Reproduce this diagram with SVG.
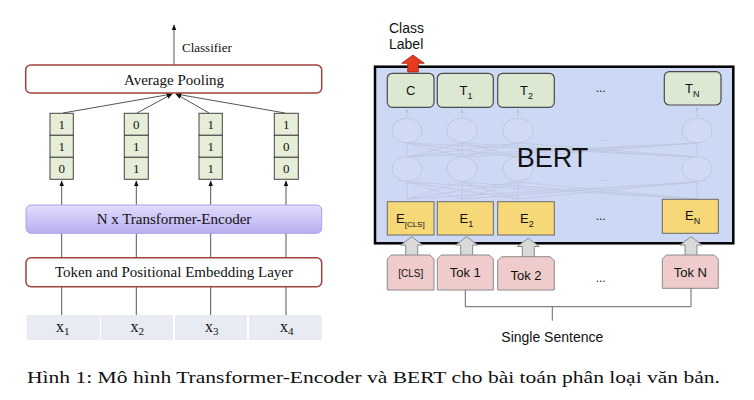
<svg xmlns="http://www.w3.org/2000/svg" width="754" height="400" viewBox="0 0 754 400">
<defs>
<style>
.serif{font-family:"Liberation Serif","Times New Roman",serif;fill:#111}
.sans{font-family:"Liberation Sans",Arial,sans-serif;fill:#111}
.ln{stroke:#555;stroke-width:1;fill:none}
.vc{fill:#e6eed8;stroke:#444;stroke-width:1}
.xc{fill:#e8ebf1}
.grn{fill:#dde8d3;stroke:#4a4a4a;stroke-width:1.2}
.yel{fill:#f6d878;stroke:#6a6a6a;stroke-width:1}
.tok{fill:#efcbcb;stroke:#8a8a8a;stroke-width:1}
.garr{fill:#d9d9d9;stroke:#8a8a8a;stroke-width:1}
.net{stroke:#bec6dd;stroke-width:0.8;fill:none}
.nete{stroke:#c0c8de;stroke-width:1;fill:#d1daf4}
</style>
<marker id="ah" viewBox="0 0 10 10" refX="9" refY="5" markerWidth="6" markerHeight="6" orient="auto">
<path d="M0,1 L10,5 L0,9 Z" fill="#111"/>
</marker>
<marker id="ahf" viewBox="0 0 10 10" refX="9" refY="5" markerWidth="5" markerHeight="5" orient="auto">
<path d="M0,1 L10,5 L0,9 Z" fill="#b9c1d9"/>
</marker>
<linearGradient id="tg" x1="0" y1="0" x2="0" y2="1">
<stop offset="0" stop-color="#e2dcfc"/>
<stop offset="1" stop-color="#b7b0f0"/>
</linearGradient>
</defs>
<rect width="754" height="400" fill="#fff"/>

<!-- LEFT: connectors -->
<g id="left-connectors">
<line class="ln" x1="61.7" y1="315" x2="61.7" y2="181" marker-end="url(#ah)"/>
<line class="ln" x1="136.3" y1="315" x2="136.3" y2="181" marker-end="url(#ah)"/>
<line class="ln" x1="210.7" y1="315" x2="210.7" y2="181" marker-end="url(#ah)"/>
<line class="ln" x1="286" y1="315" x2="286" y2="181" marker-end="url(#ah)"/>
<line class="ln" x1="63" y1="113" x2="172" y2="94" marker-end="url(#ah)"/>
<line class="ln" x1="137" y1="113" x2="172" y2="94" marker-end="url(#ah)"/>
<line class="ln" x1="209" y1="113" x2="176" y2="94" marker-end="url(#ah)"/>
<line class="ln" x1="285" y1="113" x2="176" y2="94" marker-end="url(#ah)"/>
<line class="ln" x1="174" y1="65" x2="174" y2="25" marker-end="url(#ah)"/>
</g>

<g id="classifier-label">
<text class="serif" x="182" y="52" font-size="13">Classifier</text>
</g>

<g id="avg-pooling">
<rect x="25.7" y="65" width="296" height="28" rx="5" fill="#fff" stroke="#a3403f" stroke-width="1.5"/>
<text class="serif" x="174" y="84.5" font-size="15" text-anchor="middle">Average Pooling</text>
</g>

<g id="vec1">
<rect class="vc" x="50" y="113.3" width="23.3" height="22"/>
<rect class="vc" x="50" y="135.3" width="23.3" height="22"/>
<rect class="vc" x="50" y="157.3" width="23.3" height="22"/>
<text class="serif" font-size="13" text-anchor="middle"><tspan x="61.7" y="129">1</tspan><tspan x="61.7" y="151">1</tspan><tspan x="61.7" y="173">0</tspan></text>
</g>
<g id="vec2">
<rect class="vc" x="124.3" y="113.3" width="24" height="22"/>
<rect class="vc" x="124.3" y="135.3" width="24" height="22"/>
<rect class="vc" x="124.3" y="157.3" width="24" height="22"/>
<text class="serif" font-size="13" text-anchor="middle"><tspan x="136.3" y="129">0</tspan><tspan x="136.3" y="151">1</tspan><tspan x="136.3" y="173">1</tspan></text>
</g>
<g id="vec3">
<rect class="vc" x="199" y="113.3" width="23.3" height="22"/>
<rect class="vc" x="199" y="135.3" width="23.3" height="22"/>
<rect class="vc" x="199" y="157.3" width="23.3" height="22"/>
<text class="serif" font-size="13" text-anchor="middle"><tspan x="210.7" y="129">1</tspan><tspan x="210.7" y="151">1</tspan><tspan x="210.7" y="173">1</tspan></text>
</g>
<g id="vec4">
<rect class="vc" x="274.3" y="113.3" width="24" height="22"/>
<rect class="vc" x="274.3" y="135.3" width="24" height="22"/>
<rect class="vc" x="274.3" y="157.3" width="24" height="22"/>
<text class="serif" font-size="13" text-anchor="middle"><tspan x="286.3" y="129">1</tspan><tspan x="286.3" y="151">0</tspan><tspan x="286.3" y="173">0</tspan></text>
</g>

<g id="transformer-encoder">
<rect x="26" y="205" width="295.7" height="28.3" rx="5" fill="url(#tg)" stroke="#aaa2e6" stroke-width="1"/>
<text class="serif" x="174" y="224" font-size="15" text-anchor="middle">N x Transformer-Encoder</text>
</g>

<g id="embedding-layer">
<rect x="26" y="257.7" width="295.7" height="29" rx="5" fill="#fff" stroke="#a3403f" stroke-width="1.5"/>
<text class="serif" x="174" y="277" font-size="15" text-anchor="middle">Token and Positional Embedding Layer</text>
</g>

<g id="inputs">
<rect class="xc" x="26.7" y="315" width="73.3" height="25"/>
<rect class="xc" x="101" y="315" width="72" height="25"/>
<rect class="xc" x="175" y="315" width="72" height="25"/>
<rect class="xc" x="249" y="315" width="72.7" height="25"/>
<text class="serif" font-size="16"><tspan x="56" y="332">x</tspan><tspan font-size="11" dy="3">1</tspan></text>
<text class="serif" font-size="16"><tspan x="130.5" y="332">x</tspan><tspan font-size="11" dy="3">2</tspan></text>
<text class="serif" font-size="16"><tspan x="205" y="332">x</tspan><tspan font-size="11" dy="3">3</tspan></text>
<text class="serif" font-size="16"><tspan x="280" y="332">x</tspan><tspan font-size="11" dy="3">4</tspan></text>
</g>

<!-- RIGHT: BERT -->
<g id="class-label">
<text class="sans" font-size="14"><tspan x="389" y="33">Class</tspan><tspan x="389" y="49">Label</tspan></text>
</g>

<g id="bert">
<rect x="375" y="66.7" width="358.3" height="176.6" fill="#cdd8f5" stroke="#000" stroke-width="2.5"/>
<g id="bert-network">
<g class="net">
<path d="M407 157L407 143M407 157L462 143M407 157L518 143M407 157L697 143
M462 157L407 143M462 157L462 143M462 157L518 143M462 157L697 143
M518 157L407 143M518 157L462 143M518 157L518 143M518 157L697 143
M697 157L407 143M697 157L462 143M697 157L518 143M697 157L697 143"/>
<path d="M407 199L407 182M407 199L462 182M407 199L518 182M407 199L697 182
M462 199L407 182M462 199L462 182M462 199L518 182M462 199L697 182
M518 199L407 182M518 199L462 182M518 199L518 182M518 199L697 182
M697 199L407 182M697 199L462 182M697 199L518 182M697 199L697 182"/>
<line x1="407" y1="117" x2="407" y2="109" marker-end="url(#ahf)"/>
<line x1="462" y1="117" x2="462" y2="109" marker-end="url(#ahf)"/>
<line x1="518" y1="117" x2="518" y2="109" marker-end="url(#ahf)"/>
<line x1="697" y1="117" x2="697" y2="107" marker-end="url(#ahf)"/>
</g>
<ellipse class="nete" cx="407" cy="130.5" rx="15" ry="12.3"/>
<ellipse class="nete" cx="462" cy="130.5" rx="15" ry="12.3"/>
<ellipse class="nete" cx="518" cy="130.5" rx="15" ry="12.3"/>
<ellipse class="nete" cx="697" cy="130.5" rx="15" ry="12.3"/>
<ellipse class="nete" cx="407" cy="169" rx="15" ry="12.3"/>
<ellipse class="nete" cx="462" cy="169" rx="15" ry="12.3"/>
<ellipse class="nete" cx="518" cy="169" rx="15" ry="12.3"/>
<ellipse class="nete" cx="697" cy="169" rx="15" ry="12.3"/>
<text class="sans" x="604" y="141" font-size="11" style="fill:#bcc4dc" text-anchor="middle">...</text>
<text class="sans" x="604" y="181" font-size="11" style="fill:#bcc4dc" text-anchor="middle">...</text>
</g>
<text class="sans" x="552.5" y="167" font-size="27" text-anchor="middle">BERT</text>
</g>

<g id="out-arrow">
<polygon points="413,55 424.3,63.3 418.3,63.3 418.3,72 407.7,72 407.7,63.3 401.7,63.3" fill="#e63b1f" stroke="#9c2312" stroke-width="0.8"/>
</g>

<g id="node-C">
<rect class="grn" x="387.3" y="73.3" width="46.7" height="34" rx="5"/>
<text class="sans" x="410.7" y="95" font-size="13" text-anchor="middle">C</text>
</g>
<g id="node-T1">
<rect class="grn" x="437.3" y="73.3" width="56" height="34" rx="5"/>
<text class="sans" font-size="13"><tspan x="459.5" y="95">T</tspan><tspan font-size="9" dy="4">1</tspan></text>
</g>
<g id="node-T2">
<rect class="grn" x="497.7" y="73.3" width="56.6" height="34" rx="5"/>
<text class="sans" font-size="13"><tspan x="520" y="95">T</tspan><tspan font-size="9" dy="4">2</tspan></text>
</g>
<text class="sans" x="600.7" y="92" font-size="12" text-anchor="middle">...</text>
<g id="node-TN">
<rect class="grn" x="664.3" y="71.7" width="56.7" height="33.3" rx="5"/>
<text class="sans" font-size="13"><tspan x="685" y="93">T</tspan><tspan font-size="9" dy="4">N</tspan></text>
</g>

<g id="node-ECLS">
<rect class="yel" x="387.3" y="201.7" width="46.7" height="33.3"/>
<text class="sans" font-size="13"><tspan x="396" y="223">E</tspan><tspan font-size="8" dy="4">[CLS]</tspan></text>
</g>
<g id="node-E1">
<rect class="yel" x="437.3" y="201.7" width="56" height="33.3"/>
<text class="sans" font-size="13"><tspan x="459.5" y="223">E</tspan><tspan font-size="9" dy="4">1</tspan></text>
</g>
<g id="node-E2">
<rect class="yel" x="497.7" y="201.7" width="56.6" height="33.3"/>
<text class="sans" font-size="13"><tspan x="520" y="223">E</tspan><tspan font-size="9" dy="4">2</tspan></text>
</g>
<text class="sans" x="600.7" y="220" font-size="12" text-anchor="middle">...</text>
<g id="node-EN">
<rect class="yel" x="662.3" y="199.3" width="56" height="34"/>
<text class="sans" font-size="13"><tspan x="685" y="220">E</tspan><tspan font-size="9" dy="4">N</tspan></text>
</g>

<g id="in-arrows">
<polygon class="garr" points="411.7,236.7 422.7,245 417.7,245 417.7,256 405.7,256 405.7,245 400.7,245"/>
<polygon class="garr" points="466.7,236.7 477.7,245 472.7,245 472.7,256 460.7,256 460.7,245 455.7,245"/>
<polygon class="garr" points="528.3,238.3 539.3,246.5 534.3,246.5 534.3,257.5 522.3,257.5 522.3,246.5 517.3,246.5"/>
<polygon class="garr" points="691,236.7 702,245 697,245 697,256 685,256 685,245 680,245"/>
</g>

<g id="tok-CLS">
<path class="tok" d="M387.3 259L391.3 255L430 255L434 259L434 290L387.3 290Z"/>
<text class="sans" x="410.7" y="276.5" font-size="10" text-anchor="middle">[CLS]</text>
</g>
<g id="tok-1">
<path class="tok" d="M437.3 259L441.3 255L489.3 255L493.3 259L493.3 290L437.3 290Z"/>
<text class="sans" x="465.3" y="277.3" font-size="13" text-anchor="middle">Tok 1</text>
</g>
<g id="tok-2">
<path class="tok" d="M497.7 260.7L501.7 256.7L550.3 256.7L554.3 260.7L554.3 290L497.7 290Z"/>
<text class="sans" x="526" y="280" font-size="13" text-anchor="middle">Tok 2</text>
</g>
<text class="sans" x="600.7" y="282" font-size="12" text-anchor="middle">...</text>
<g id="tok-N">
<path class="tok" d="M662.3 259L666.3 255L714.3 255L718.3 259L718.3 288.3L662.3 288.3Z"/>
<text class="sans" x="690.3" y="277" font-size="13" text-anchor="middle">Tok N</text>
</g>

<g id="sentence-bracket">
<path d="M465.3 290L465.3 306.7L691 306.7L691 288.3M552.3 306.7L552.3 320.7" fill="none" stroke="#666" stroke-width="1"/>
</g>
<g id="single-sentence">
<text class="sans" x="552.3" y="341.7" font-size="14" text-anchor="middle">Single Sentence</text>
</g>

<g id="caption">
<text class="serif" x="27" y="383" font-size="17.5" textLength="693" lengthAdjust="spacingAndGlyphs">Hình 1: Mô hình Transformer-Encoder và BERT cho bài toán phân loại văn bản.</text>
</g>
</svg>
